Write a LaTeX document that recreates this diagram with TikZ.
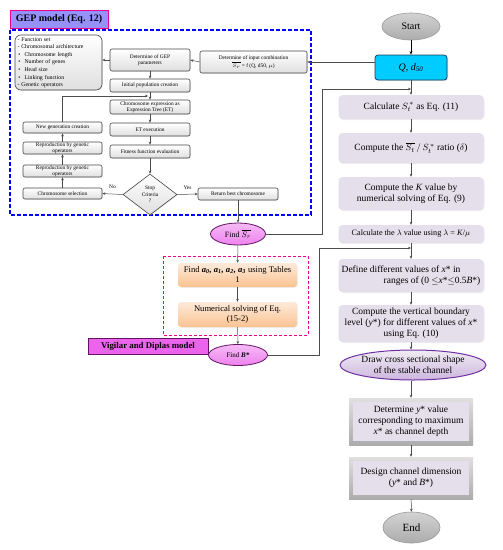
\documentclass[tikz,border=0pt]{standalone}
\usepackage{fontspec}
\setmainfont{Liberation Serif}
\usetikzlibrary{shapes.geometric,arrows.meta,shadows}
\definecolor{lav}{RGB}{229,223,236}
\definecolor{cyanbox}{RGB}{0,204,255}
\definecolor{cyanedge}{RGB}{30,60,90}
\definecolor{vio}{RGB}{238,130,238}
\definecolor{vioedge}{RGB}{100,20,100}
\definecolor{orgtop}{RGB}{253,234,218}
\definecolor{orgbot}{RGB}{250,195,145}
\definecolor{geplab}{RGB}{150,145,255}
\definecolor{vigfill}{RGB}{235,100,235}
\definecolor{purpedge}{RGB}{112,48,160}
\definecolor{edgegray}{RGB}{70,70,70}
\begin{document}
\begin{tikzpicture}[x=1pt,y=-1pt,
  conn/.style={draw=gray!60!black, line width=0.5pt},
  arr/.style={conn,-{Stealth[length=3pt,width=2.6pt]}},
  tinyf/.style={font=\fontsize{5.4}{6.2}\selectfont},
  gepbox/.style={tinyf, draw=edgegray, line width=0.6pt, rounded corners=2pt,
     top color=white, bottom color=gray!25, inner sep=0pt, align=center,
     drop shadow={shadow xshift=0.6pt, shadow yshift=-0.6pt, fill=gray!45}},
  rbox/.style={font=\fontsize{9.5}{11}\selectfont, fill=lav, rounded corners=4pt, inner sep=0pt,
     align=center, minimum width=145pt,
     drop shadow={shadow xshift=1pt, shadow yshift=-1pt, fill=gray!30}},
  bevel/.style={font=\fontsize{9.5}{11}\selectfont, top color=gray!25, bottom color=gray!65, inner sep=0pt,
     align=center, minimum width=124pt,
     path picture={\fill[lav] ([shift={(4pt,-4pt)}]path picture bounding box.north west)
        rectangle ([shift={(-4pt,4pt)}]path picture bounding box.south east);}},
  obox/.style={font=\fontsize{8.6}{10}\selectfont, top color=orgtop, bottom color=orgbot, rounded corners=3pt,
     inner sep=0pt, align=center, minimum width=119pt,
     drop shadow={shadow xshift=0.8pt, shadow yshift=-0.8pt, fill=gray!25}},
  vell/.style={ellipse, draw=vioedge, line width=0.8pt, top color=vio!55, bottom color=vio, inner sep=0pt},
  gell/.style={ellipse, draw=gray!80, line width=0.6pt, top color=gray!35, bottom color=gray!65, inner sep=0pt,
     font=\fontsize{10}{12}\selectfont}
]
\useasboundingbox (0,0) rectangle (503,550);

% dashed frames
\draw[blue, line width=1.3pt, dash pattern=on 4pt off 2pt] (10,30) rectangle (311,215);
\draw[magenta, line width=1pt, dash pattern=on 3pt off 2pt] (163,256) rectangle (308,335);

% labels
\node[draw=magenta, line width=0.6pt, fill=geplab, minimum width=98pt, minimum height=18pt, inner sep=0pt,
      font=\fontsize{10}{12}\selectfont\bfseries] (geplabel) at (59,19) {GEP model (Eq. 12)};
\node[draw=vioedge, line width=0.6pt, fill=vigfill, minimum width=120pt, minimum height=16pt, inner sep=0pt,
      font=\fontsize{8.8}{10}\selectfont\bfseries] (viglabel) at (148,346) {Vigilar and Diplas model};

% GEP part
\node[gepbox, rounded corners=6pt, minimum width=87pt, minimum height=55pt, text width=82pt, align=left,
      font=\fontsize{5.8}{7.6}\selectfont] (fs) at (58.5,62.5)
  {- Function set\\- Chromosomal architecture\\
   \hspace*{1pt}\textbullet\hspace{4pt}Chromosome length\\
   \hspace*{1pt}\textbullet\hspace{4pt}Number of genes\\
   \hspace*{1pt}\textbullet\hspace{4pt}Head size\\
   \hspace*{1pt}\textbullet\hspace{4pt}Linking function\\
   - Genetic operators};
\node[gepbox, minimum width=80pt, minimum height=22pt] (gepp) at (150,60) {Determine of GEP\\parameters};
\node[gepbox, minimum width=107pt, minimum height=22pt] (inp) at (253.5,62)
  {Determine of input combination\\$\overline{S_r}$ = f (Q, d50, $\mu$)};
\node[gepbox, minimum width=80pt, minimum height=13pt] (init) at (150,85.5) {Initial population creation};
\node[gepbox, minimum width=80pt, minimum height=14pt, font=\fontsize{5.4}{5.6}\selectfont] (chrom) at (150,107)
  {Chromosome expression as\\Expression Tree (ET)};
\node[gepbox, minimum width=80pt, minimum height=13pt] (etx) at (150,129.5) {ET execution};
\node[gepbox, minimum width=80pt, minimum height=13pt] (fit) at (150,151.5) {Fitness function evaluation};
\node[gepbox, diamond, rounded corners=0pt, minimum width=54pt, minimum height=41pt, aspect=1.3,
      font=\fontsize{5.4}{6.6}\selectfont] (dia) at (150,194.5) {Stop\\Criteria\\?};
\node[gepbox, minimum width=80pt, minimum height=12pt] (ret) at (238,194) {Return best chromosome};
\node[gepbox, minimum width=79pt, minimum height=11pt] (sel) at (62.5,193.5) {Chromosome selection};
\node[gepbox, minimum width=79pt, minimum height=12pt, font=\fontsize{5.4}{5.6}\selectfont] (rep1) at (62.5,171)
  {Reproduction by genetic\\operators};
\node[gepbox, minimum width=79pt, minimum height=12pt, font=\fontsize{5.4}{5.6}\selectfont] (rep2) at (62.5,148)
  {Reproduction by genetic\\operators};
\node[gepbox, minimum width=79pt, minimum height=11pt] (newg) at (62.5,127.5) {New generation creation};

\coordinate (j1) at (148,96);
\draw[arr] (inp.west) -- (gepp.east);
\draw[arr] (gepp.west) -- (gepp.west -| fs.east);
\draw[arr] (gepp) -- (init);
\draw[arr] (init) -- (chrom);
\draw[arr] (newg.north) |- (j1);
\draw[arr] (chrom) -- (etx);
\draw[arr] (etx) -- (fit);
\draw[arr] (fit) -- (dia.north);
\draw[arr] (dia.west) -- node[above=1.5pt, tinyf] {No} (sel.east);
\draw[arr] (dia.east) -- node[above=1.5pt, tinyf] {Yes} (ret.west);
\draw[arr] (sel) -- (rep1);
\draw[arr] (rep1) -- (rep2);
\draw[arr] (rep2) -- (newg);

% Vigilar part
\node[vell, minimum width=55pt, minimum height=22pt, font=\fontsize{8}{9}\selectfont] (finds) at (238,234)
  {Find $\overline{S_r}$};
\node[obox, minimum height=24pt] (fa) at (237.5,275)
  {Find \textbf{\textit{a\textsubscript{0}, a\textsubscript{1}, a\textsubscript{2}, a\textsubscript{3}}} using Tables\\1};
\node[obox, minimum height=25pt] (num) at (237.5,314.5) {Numerical solving of Eq.\\(15-2)};
\node[vell, minimum width=59pt, minimum height=21pt, font=\fontsize{7}{8}\selectfont] (findb) at (238,355)
  {Find \textbf{\textit{B*}}};

\draw[arr] (ret) -- (finds);
\draw[arr] (finds) -- (fa);
\draw[arr] (fa) -- (num);
\draw[arr] (num) -- (findb);

% right column
\node[gell, minimum width=58pt, minimum height=27pt] (start) at (411,26.5) {Start};
\node[draw=cyanedge, line width=0.8pt, fill=cyanbox, rounded corners=3pt, minimum width=72pt, minimum height=25pt,
      inner sep=0pt, font=\fontsize{10}{12}\selectfont\itshape,
      drop shadow={shadow xshift=1pt, shadow yshift=-1pt, fill=gray!50}] (q) at (411,67.5)
  {Q, d\textsubscript{50}};
\node[rbox, minimum height=24pt] (calc) at (411,107) {Calculate $S_t^{\,*}$ as Eq. (11)};
\node[rbox, minimum height=30pt] (ratio) at (411,148) {Compute the $\overline{S_t}\,/\,S_t^{\,*}$ ratio ($\delta$)};
\node[rbox, minimum height=33pt] (kval) at (411,193.5) {Compute the \textit{K} value by\\numerical solving of Eq. (9)};
\node[rbox, minimum height=18pt, font=\fontsize{8.2}{10}\selectfont] (lam) at (411,234)
  {Calculate the $\lambda$ value using $\lambda$ = \textit{K}/$\mu$};
\node[rbox, minimum height=33pt, align=left] (def) at (411,275.5)
  {Define different values of \textit{x}* in\\\hspace*{42pt}ranges of (0 $\leq$\textit{x}*$\leq$0.5\textit{B}*)};
\node[rbox, minimum height=37pt] (vert) at (411,323.5)
  {Compute the vertical boundary\\level (\textit{y}*) for different values of \textit{x}*\\using Eq. (10)};
\node[ellipse, draw=purpedge, line width=1pt, top color=lav!60, bottom color=purpedge!35, inner sep=0pt,
      minimum width=140pt, minimum height=30pt, align=center, font=\fontsize{9.5}{11}\selectfont] (shape) at (413,365)
  {Draw cross sectional shape\\of the stable channel};
\node[bevel, minimum height=47pt] (det) at (411,421.5)
  {Determine \textit{y}* value\\corresponding to maximum\\\textit{x}* as channel depth};
\node[bevel, minimum height=42pt] (des) at (411,478) {Design channel dimension\\(\textit{y}* and \textit{B}*)};
\node[gell, minimum width=57pt, minimum height=31pt, font=\fontsize{11}{13}\selectfont] (end) at (411.5,527.5) {End};

\draw[-{Stealth[length=3.5pt,width=3pt]}, line width=0.7pt] (start) -- (q);
\draw[arr] (q) -- (calc);
\draw[arr] (calc) -- (ratio);
\draw[arr] (ratio) -- (kval);
\draw[arr] (kval) -- (lam);
\draw[arr] (lam) -- (def);
\draw[arr] (def) -- (vert);
\draw[arr] (vert.south) -- (vert.south |- shape.north);
\draw[arr] (vert.south |- shape.south) -- (det.north);
\draw[arr] (det) -- (des);
\draw[arr] (des) -- (end);

% feedback connectors
\coordinate (c1) at (411,89);
\coordinate (b1) at (322,234);
\coordinate (c2) at (411,248);
\coordinate (b2) at (319,355);
\draw[arr] (q.west |- inp.east) -- (inp.east);
\draw[arr] (finds.east) -- (b1) |- (c1);
\draw[arr] (findb.east) -- (b2) |- (c2);
\end{tikzpicture}
\end{document}
